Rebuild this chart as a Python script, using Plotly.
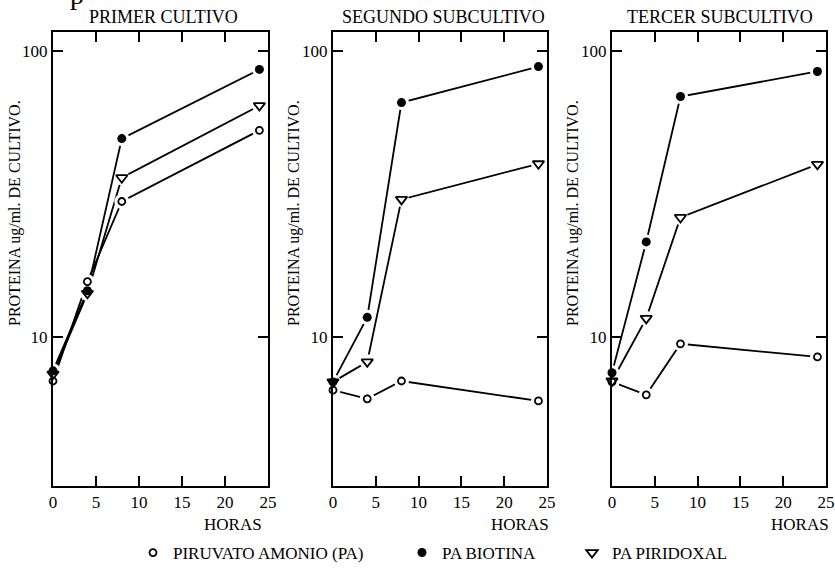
import plotly.graph_objects as go
import math

# ---------------- data ----------------
horas = [0, 4, 8, 24]
panel_titles = ["PRIMER CULTIVO", "SEGUNDO SUBCULTIVO", "TERCER SUBCULTIVO"]
series_names = ["PIRUVATO AMONIO (PA)", "PA BIOTINA", "PA PIRIDOXAL"]

# panel 1: PRIMER CULTIVO
p1_pa = [7.0, 15.6, 29.8, 52.9]
p1_biotina = [7.6, 14.5, 49.5, 86.5]
p1_piridoxal = [7.4, 14.2, 36.1, 64.6]
# panel 2: SEGUNDO SUBCULTIVO
p2_pa = [6.5, 6.06, 7.0, 5.96]
p2_biotina = [6.95, 11.7, 66.2, 88.5]
p2_piridoxal = [6.95, 8.17, 30.3, 40.4]
# panel 3: TERCER SUBCULTIVO
p3_pa = [6.95, 6.26, 9.45, 8.5]
p3_biotina = [7.48, 21.5, 69.5, 85.1]
p3_piridoxal = [7.0, 11.6, 26.2, 40.2]

x_ticks = [0, 5, 10, 15, 20, 25]
y_ticks = [10, 100]
y_ticktext = ["10", "100"]
y_title = "PROTEINA ug/ml. DE CULTIVO."
x_title = "HORAS"

panels = [
    [p1_pa, p1_biotina, p1_piridoxal],
    [p2_pa, p2_biotina, p2_piridoxal],
    [p3_pa, p3_biotina, p3_piridoxal],
]

W, H = 835, 568
FONT = "Liberation Serif"
mt, mb = 32, 82
plot_h = H - mt - mb
domains_px = [(53, 268), (333, 547), (612, 826)]

symbols = [
    dict(symbol="circle", size=7, color="white", line=dict(color="black", width=1.8)),
    dict(symbol="circle", size=9, color="black", line=dict(color="black", width=0)),
    dict(symbol="triangle-down-open", size=10, color="black", line=dict(color="black", width=1.8)),
]

fig = go.Figure()

for pi, data in enumerate(panels):
    xa = "x" if pi == 0 else f"x{pi+1}"
    ya = "y" if pi == 0 else f"y{pi+1}"
    for si, vals in enumerate(data):
        fig.add_trace(go.Scatter(x=horas, y=vals, mode="lines", xaxis=xa, yaxis=ya,
                                 line=dict(color="black", width=1.8), showlegend=False,
                                 hoverinfo="skip", cliponaxis=False))
    for si, vals in enumerate(data):
        fig.add_trace(go.Scatter(x=horas, y=vals, mode="markers", xaxis=xa, yaxis=ya,
                                 marker=dict(symbol="circle", size=15, color="white"),
                                 showlegend=False, hoverinfo="skip", cliponaxis=False))
    for si, vals in enumerate(data):
        leg = "legend" if si == 0 else f"legend{si+1}"
        fig.add_trace(go.Scatter(x=horas, y=vals, mode="markers", xaxis=xa, yaxis=ya,
                                 marker=symbols[si], name=series_names[si],
                                 showlegend=(pi == 0), legend=leg, cliponaxis=False))

axis_common = dict(showline=True, linewidth=2, linecolor="black", mirror="ticks",
                   ticks="inside", ticklen=10, tickwidth=2, tickcolor="black",
                   showgrid=False, zeroline=False,
                   tickfont=dict(family=FONT, size=17, color="black"))

layout = dict(width=W, height=H, plot_bgcolor="white", paper_bgcolor="white",
              margin=dict(l=0, r=0, t=mt, b=mb, autoexpand=False),
              font=dict(family=FONT, size=17, color="black"))

for pi in range(3):
    xk = "xaxis" if pi == 0 else f"xaxis{pi+1}"
    yk = "yaxis" if pi == 0 else f"yaxis{pi+1}"
    a, b = domains_px[pi]
    layout[xk] = dict(axis_common, domain=[a / W, b / W], range=[0, 25], tickvals=x_ticks,
                      anchor="y" if pi == 0 else f"y{pi+1}")
    layout[yk] = dict(axis_common, type="log", range=[math.log10(3.0), math.log10(117)],
                      tickvals=y_ticks, ticktext=y_ticktext, domain=[0, 1],
                      anchor="x" if pi == 0 else f"x{pi+1}")

leg_x_px = [133, 402, 572]
for i in range(3):
    lk = "legend" if i == 0 else f"legend{i+1}"
    layout[lk] = dict(x=leg_x_px[i] / W, y=(H - mb - 553) / plot_h,
                      xref="paper", yref="paper",
                      xanchor="left", yanchor="middle", orientation="h",
                      itemwidth=30, bgcolor="rgba(0,0,0,0)",
                      font=dict(family=FONT, size=17, color="black"))

fig.update_layout(**layout)

annotations = []
title_cx = [163, 443, 720]
horas_cx = [233, 520, 800]
ytitle_x = [15, 294, 573]
for pi in range(3):
    annotations.append(dict(text=panel_titles[pi], xref="paper", yref="paper",
                            x=title_cx[pi] / W, y=(H - mb - 17) / plot_h, xanchor="center",
                            yanchor="middle", showarrow=False, font=dict(family=FONT, size=18)))
    annotations.append(dict(text=x_title, xref="paper", yref="paper",
                            x=horas_cx[pi] / W, y=(H - mb - 524) / plot_h, xanchor="center",
                            yanchor="middle", showarrow=False, font=dict(family=FONT, size=17)))
    annotations.append(dict(text=y_title, xref="paper", yref="paper", textangle=-90,
                            x=ytitle_x[pi] / W, y=(H - mb - 213) / plot_h, xanchor="center",
                            yanchor="middle", showarrow=False, font=dict(family=FONT, size=16)))
annotations.append(dict(text="p", xref="paper", yref="paper", x=77 / W,
                        y=(H - mb + 5) / plot_h, xanchor="center", yanchor="middle",
                        showarrow=False, font=dict(family=FONT, size=28)))
fig.update_layout(annotations=annotations)

fig.write_html("out.html", config={"displayModeBar": False},
               post_script="document.body.style.margin='0';document.body.style.padding='0';")
